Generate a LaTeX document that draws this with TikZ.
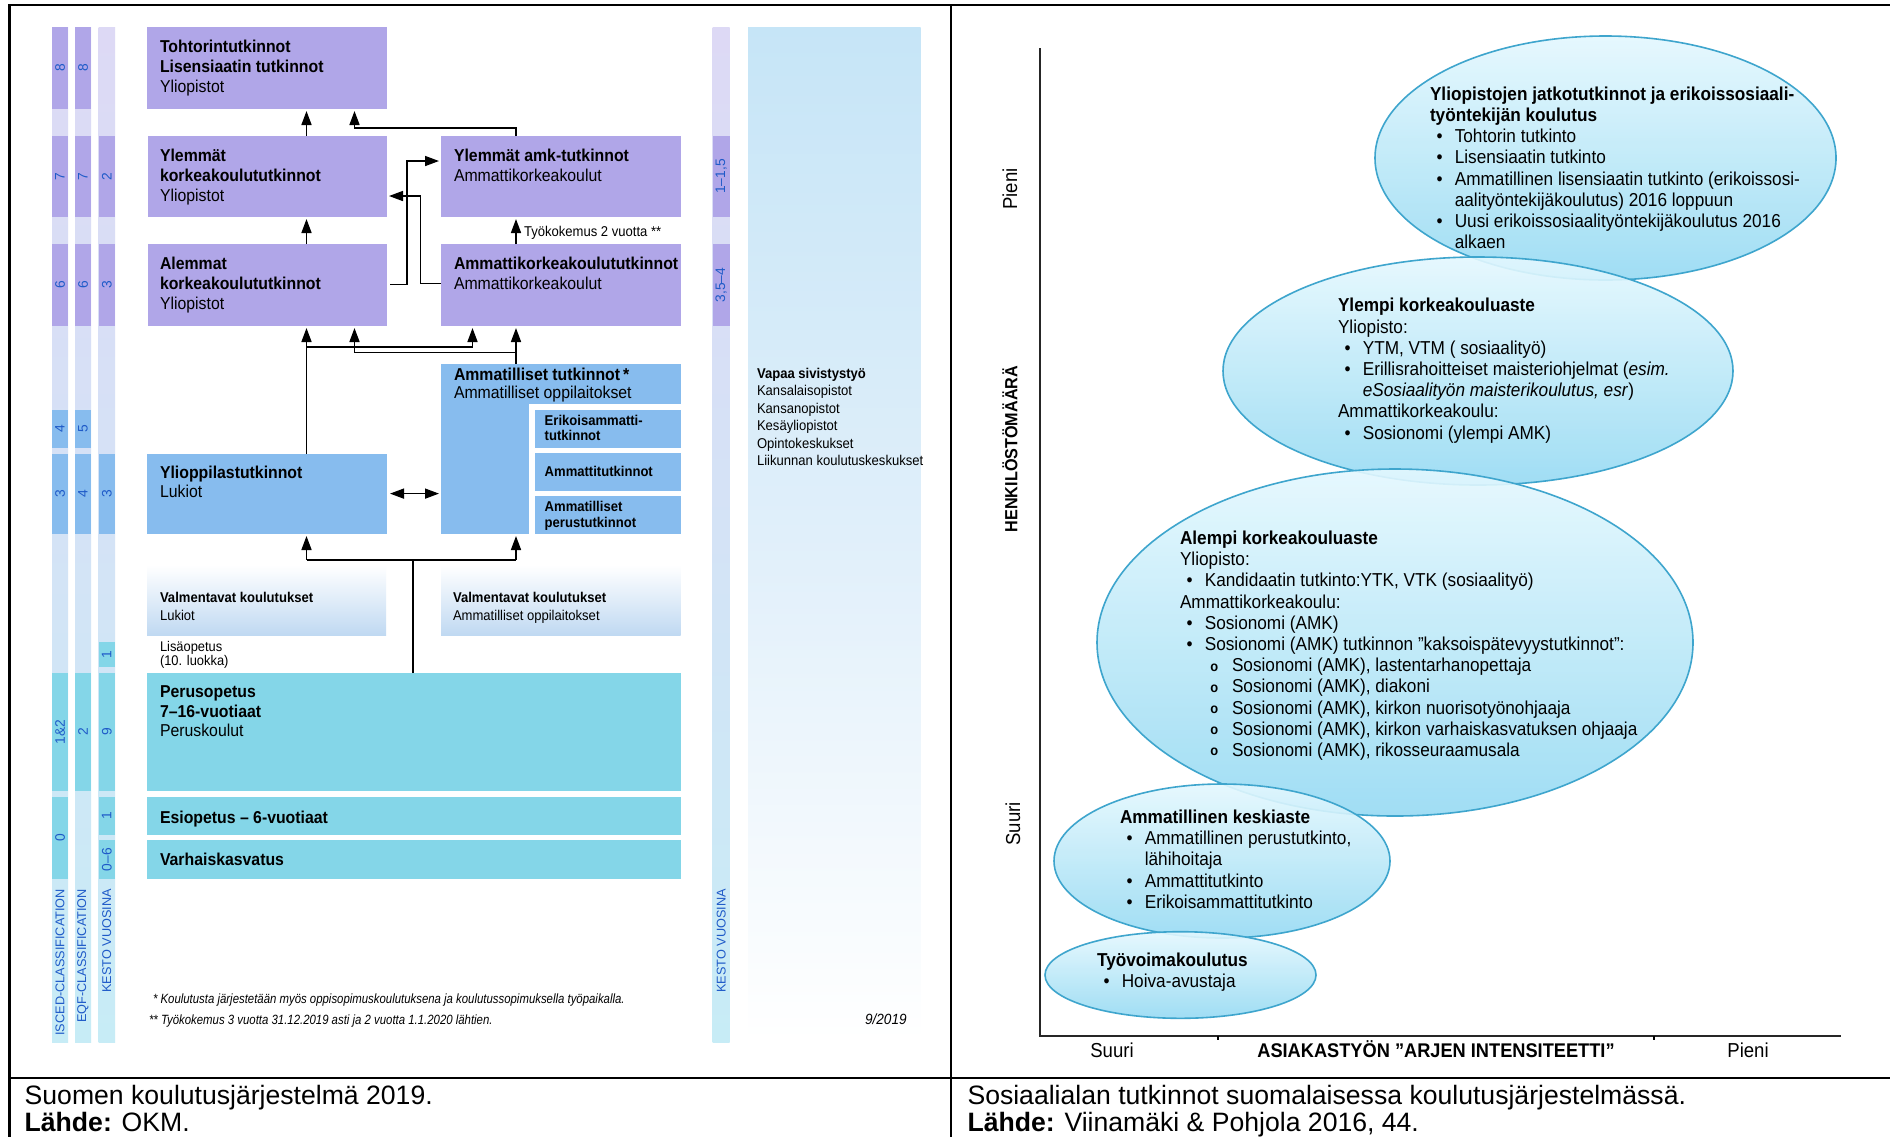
\documentclass[tikz,border=0pt]{standalone}
\usepackage{fontspec}
\setmainfont{Liberation Sans}
\newfontfamily\nfont[FakeStretch=0.92]{Liberation Sans}
\newfontfamily\nfontc[FakeStretch=0.85]{Liberation Sans}
\usetikzlibrary{fit,arrows.meta,shapes.geometric}
\definecolor{lavc}{RGB}{176,166,232}
\definecolor{lavl}{RGB}{221,217,245}
\definecolor{bluc}{RGB}{135,188,238}
\definecolor{blul}{RGB}{212,227,246}
\definecolor{cyac}{RGB}{132,214,232}
\definecolor{cyal}{RGB}{199,236,246}
\definecolor{numc}{RGB}{30,90,200}
\definecolor{valmc}{RGB}{192,217,242}
\definecolor{vapc}{RGB}{198,229,247}
\definecolor{vapm}{RGB}{224,239,250}
\definecolor{ellt}{RGB}{228,248,254}
\definecolor{ellb}{RGB}{150,218,243}
\definecolor{elld}{RGB}{62,165,205}
\newcommand\seg[7]{\node[fill=#5,fit={(#1,#3)(#2,#4)}] (#6) {};\node[numf,rotate=90] (#6n) at (#6.center) {#7};}
\newcommand\vtab[1]{\begin{tabular}[t]{@{}l@{}}#1\end{tabular}}
\newcommand\ebul[1]{\hspace*{3.3pt}\makebox[9.1pt][l]{\textbullet}#1}
\newcommand\econt[1]{\hspace*{12.4pt}#1}
\newcommand\esub[1]{\hspace*{15.2pt}\makebox[10.8pt][l]{\raisebox{0.3pt}{\fontsize{7}{7}\selectfont\bfseries o}}#1}
\begin{document}
\begin{tikzpicture}[x=0.5pt,y=-0.5pt,
  every node/.style={inner sep=0pt,outer sep=0pt},
  numf/.style={font=\fontsize{6.9}{7}\selectfont,text=numc},
  collab/.style={font=\fontsize{6.35}{7}\selectfont,text=numc,rotate=90,anchor=east},
  boxt/.style={anchor=base west,font=\nfont\fontsize{8.6}{10}\selectfont},
  smallt/.style={anchor=base west,font=\nfont\fontsize{7.1}{8.9}\selectfont},
  foot/.style={anchor=base west,font=\nfontc\itshape\fontsize{6.7}{8}\selectfont},
  ellt/.style={anchor=base west,font=\nfont\fontsize{9.35}{10.6}\selectfont},
  axf/.style={font=\nfont\fontsize{10.1}{11}\selectfont},
  capf/.style={anchor=base west,font=\fontsize{13.3}{14}\selectfont},
  strip/.style={top color=lavl,bottom color=cyal,middle color=blul},
  arr/.style={-{Triangle[length=7pt,width=5pt]},line width=0.8pt,shorten >=1pt},
  darr/.style={{Triangle[length=7pt,width=5pt]}-{Triangle[length=7pt,width=5pt]},line width=0.8pt,shorten >=1pt,shorten <=1.5pt},
  lin/.style={line width=0.8pt},
  tbl/.style={line width=1.1pt},
  ell/.style={ellipse,draw=elld,line width=0.8pt,top color=ellt,bottom color=ellb,fill opacity=0.9}
]
\useasboundingbox (0,0) rectangle (1890,1137);
\fill[white] (0,0) rectangle (1890,1137);

% ---------- table frame ----------
\coordinate (tl) at (9.5,5); \coordinate (tr) at (1890,5); \coordinate (bl) at (9.5,1137);
\coordinate (dt) at (950.7,5); \coordinate (db) at (950.7,1137);
\coordinate (hl) at (9.5,1077.7); \coordinate (hr) at (1890,1077.7);
\draw[tbl] (tr) -- (tl) -- (bl);
\draw[tbl] (dt) -- (db);
\draw[tbl] (hl) -- (hr);

% ---------- left: strips ----------
\node[strip,fit={(52,27)(68,1042)}] (s1) {};
\node[strip,fit={(75,27)(91,1042)}] (s2) {};
\node[strip,fit={(98.5,27)(115,1042)}] (s3) {};
\node[strip,fit={(712.6,27)(729.7,1042)}] (s4) {};
\node[top color=vapc,bottom color=white,middle color=vapm,fit={(748,27)(920.5,1042)}] (vap) {};

\seg{52}{68}{27}{109}{lavc}{a8}{8}
\seg{52}{68}{136}{217}{lavc}{a7}{7}
\seg{52}{68}{244}{326}{lavc}{a6}{6}
\seg{52}{68}{410}{448}{bluc}{a4}{4}
\seg{52}{68}{454}{534}{bluc}{a3}{3}
\seg{52}{68}{673}{791}{cyac}{a12}{1\&2}
\seg{52}{68}{797}{879}{cyac}{a0}{0}
\seg{75}{91}{27}{109}{lavc}{b8}{8}
\seg{75}{91}{136}{217}{lavc}{b7}{7}
\seg{75}{91}{244}{326}{lavc}{b6}{6}
\seg{75}{91}{410}{448}{bluc}{b5}{5}
\seg{75}{91}{454}{534}{bluc}{b4}{4}
\seg{75}{91}{673}{791}{cyac}{b2}{2}
\seg{98.5}{115}{136}{217}{lavc}{c2}{2}
\seg{98.5}{115}{244}{326}{lavc}{c3a}{3}
\seg{98.5}{115}{454}{534}{bluc}{c3b}{3}
\seg{98.5}{115}{642}{667}{cyac}{c1a}{1}
\seg{98.5}{115}{673}{791}{cyac}{c9}{9}
\seg{98.5}{115}{797}{835}{cyac}{c1b}{1}
\seg{98.5}{115}{840}{879}{cyac}{c06}{0--6}
\seg{712.6}{729.7}{136}{217}{lavc}{r1}{1--1,5}
\seg{712.6}{729.7}{244}{326}{lavc}{r2}{3,5--4}

\node[collab] (l1) at (60,889) {ISCED-CLASSIFICATION};
\node[collab] (l2) at (83,889) {EQF-CLASSIFICATION};
\node[collab] (l3) at (106.75,889) {KESTO VUOSINA};
\node[collab] (l4) at (721.2,889) {KESTO VUOSINA};

% ---------- left: boxes ----------
\node[fill=lavc,fit={(147,27)(387,109)}] (toht) {};
\node[fill=lavc,fit={(148,136)(387,217)}] (ylk) {};
\node[fill=lavc,fit={(148,244)(387,326)}] (alk) {};
\node[fill=lavc,fit={(441,136)(680.6,217)}] (yamk) {};
\node[fill=lavc,fit={(441,244)(680.6,326)}] (amk) {};
\node[fill=bluc,fit={(441,364)(680.6,534)}] (amm) {};
\node[fill=white,fit={(529,403.5)(680.6,534)}] (ammgap) {};
\node[fill=bluc,fit={(534.5,409.7)(680.6,447.8)}] (sub1) {};
\node[fill=bluc,fit={(534.5,452.6)(680.6,490.7)}] (sub2) {};
\node[fill=bluc,fit={(534.5,496)(680.6,534)}] (sub3) {};
\node[fill=bluc,fit={(147,454)(387,534)}] (ylio) {};
\node[top color=white,bottom color=valmc,fit={(147,565)(386,635)}] (valm1) {};
\node[top color=white,bottom color=valmc,fit={(441,565)(680.6,635)}] (valm2) {};
\node[fill=cyac,fit={(147,673)(680.6,791)}] (perus) {};
\node[fill=cyac,fit={(147,797)(680.6,835)}] (esi) {};
\node[fill=cyac,fit={(147,840)(680.6,879)}] (varh) {};

\node[boxt] (tohtt) at (160,52.7) {\vtab{\textbf{Tohtorintutkinnot}\\\textbf{Lisensiaatin tutkinnot}\\Yliopistot}};
\node[boxt] (ylkt) at (160,161.8) {\vtab{\textbf{Ylemmät}\\\textbf{korkeakoulututkinnot}\\Yliopistot}};
\node[boxt] (alkt) at (160,269.8) {\vtab{\textbf{Alemmat}\\\textbf{korkeakoulututkinnot}\\Yliopistot}};
\node[boxt] (yamkt) at (454,161.3) {\vtab{\textbf{Ylemmät amk-tutkinnot}\\Ammattikorkeakoulut}};
\node[boxt] (amkt) at (454,269.8) {\vtab{\textbf{Ammattikorkeakoulututkinnot}\\Ammattikorkeakoulut}};
\node[boxt,font=\nfont\fontsize{8.6}{9.2}\selectfont] (ammt) at (454,380) {\vtab{\textbf{Ammatilliset tutkinnot\,*}\\Ammatilliset oppilaitokset}};
\node[smallt,font=\nfont\bfseries\fontsize{7.1}{7.4}\selectfont] (sub1t) at (544.7,425.3) {\vtab{Erikoisammatti-\\tutkinnot}};
\node[smallt,font=\nfont\bfseries\fontsize{7.1}{7.4}\selectfont] (sub2t) at (544.7,476) {Ammattitutkinnot};
\node[smallt,font=\nfont\bfseries\fontsize{7.1}{7.8}\selectfont] (sub3t) at (544.7,511.8) {\vtab{Ammatilliset\\perustutkinnot}};
\node[boxt,font=\nfont\fontsize{8.6}{9.5}\selectfont] (yliot) at (160,478.4) {\vtab{\textbf{Ylioppilastutkinnot}\\Lukiot}};
\node[smallt,font=\nfont\fontsize{7.1}{9.2}\selectfont] (valm1t) at (160,602.3) {\vtab{\textbf{Valmentavat koulutukset}\\Lukiot}};
\node[smallt,font=\nfont\fontsize{7.1}{9.2}\selectfont] (valm2t) at (453,602.3) {\vtab{\textbf{Valmentavat koulutukset}\\Ammatilliset oppilaitokset}};
\node[smallt,font=\nfont\fontsize{7}{6.9}\selectfont] (lisa) at (160,651.3) {\vtab{Lisäopetus\\(10. luokka)}};
\node[boxt,font=\nfont\fontsize{8.6}{9.7}\selectfont] (perust) at (160,697.9) {\vtab{\textbf{Perusopetus}\\\textbf{7–16-vuotiaat}\\Peruskoulut}};
\node[boxt] (esit) at (160,823.3) {\textbf{Esiopetus – 6-vuotiaat}};
\node[boxt] (varht) at (160,865.8) {\textbf{Varhaiskasvatus}};
\node[smallt,font=\nfont\fontsize{7.1}{8.75}\selectfont] (vapt) at (757,378) {\vtab{\textbf{Vapaa sivistystyö}\\Kansalaisopistot\\Kansanopistot\\Kesäyliopistot\\Opintokeskukset\\Liikunnan koulutuskeskukset}};
\node[smallt] (tyo) at (524,236.3) {Työkokemus 2 vuotta **};
\node[foot] (f1) at (153,1003) {* Koulutusta järjestetään myös oppisopimuskoulutuksena ja koulutussopimuksella työpaikalla.};
\node[foot] (f2) at (149,1024) {** Työkokemus 3 vuotta 31.12.2019 asti ja 2 vuotta 1.1.2020 lähtien.};
\node[anchor=base west,font=\nfont\itshape\fontsize{7.4}{8}\selectfont] (date) at (865,1024) {9/2019};

% ---------- left: connectors ----------
\coordinate (xa) at (306.5,0); \coordinate (xb) at (354.5,0);
\coordinate (xc) at (472.5,0); \coordinate (xd) at (516,0);
\coordinate (xm) at (413,0); \coordinate (xp) at (407,0); \coordinate (xq) at (420.6,0);
\coordinate (ya) at (0,128); \coordinate (yb) at (0,347); \coordinate (yc) at (0,352.6);
\coordinate (yd) at (0,560); \coordinate (ye) at (0,284.6); \coordinate (yf) at (0,161);
\coordinate (yg) at (0,283.5); \coordinate (yh) at (0,196); \coordinate (yi) at (0,493.6);

\draw[arr] (ylk.north -| xa) -- (toht.south -| xa);
\draw[arr] (yamk.north -| xd) -- (xd |- ya) -- (xb |- ya) -- (toht.south -| xb);
\draw[arr] (alk.north -| xa) -- (ylk.south -| xa);
\draw[arr] (amk.north -| xd) -- (yamk.south -| xd);
\draw[arr] ([xshift=1.5pt]alk.east |- ye) -- (xp |- ye) -- (xp |- yf) -- (yamk.west |- yf);
\draw[arr] (amk.west |- yg) -- (xq |- yg) -- (xq |- yh) -- (ylk.east |- yh);
\draw[arr] (ylio.north -| xa) -- (alk.south -| xa);
\draw[arr] (xa |- yb) -- (xc |- yb) -- (amk.south -| xc);
\draw[arr] (amm.north -| xd) -- (amk.south -| xd);
\draw[arr] (xd |- yc) -- (xb |- yc) -- (alk.south -| xb);
\draw[darr] (ylio.east |- yi) -- (amm.west |- yi);
\draw[lin] (perus.north -| xm) -- (xm |- yd);
\draw[lin] (xa |- yd) -- (xd |- yd);
\draw[arr] (xa |- yd) -- (ylio.south -| xa);
\draw[arr] (xd |- yd) -- (amm.south -| xd);

% ---------- right panel ----------
\coordinate (org) at (1040,1036); \coordinate (ytop) at (1040,48); \coordinate (xend) at (1840.5,1036);
\coordinate (tk1) at (1218,1036); \coordinate (tk2) at (1654,1036);
\draw[line width=0.8pt,black!85] (ytop) -- (org) -- (xend);
\draw[line width=0.6pt] (tk1) -- ++(0,4);
\draw[line width=0.6pt] (tk2) -- ++(0,4);

\node[ell,minimum width=230.5pt,minimum height=122pt] (e1) at (1605.5,158) {};
\node[ell,minimum width=255pt,minimum height=114pt] (e2) at (1478,371) {};
\node[ell,minimum width=298pt,minimum height=173.5pt] (e3) at (1395,642.5) {};
\node[ell,minimum width=168pt,minimum height=77pt] (e4) at (1222,861) {};
\node[ell,minimum width=135.5pt,minimum height=43.3pt] (e5) at (1180.5,975) {};

\node[ellt] (e1t) at (1430,100.3) {\vtab{\textbf{Yliopistojen jatkotutkinnot ja erikoissosiaali-}\\
\textbf{työntekijän koulutus}\\
\ebul{Tohtorin tutkinto}\\
\ebul{Lisensiaatin tutkinto}\\
\ebul{Ammatillinen lisensiaatin tutkinto (erikoissosi-}\\
\econt{aalityöntekijäkoulutus) 2016 loppuun}\\
\ebul{Uusi erikoissosiaalityöntekijäkoulutus 2016}\\
\econt{alkaen}}};
\node[ellt] (e2t) at (1338,311.8) {\vtab{\textbf{Ylempi korkeakouluaste}\\
Yliopisto:\\
\ebul{YTM, VTM ( sosiaalityö)}\\
\ebul{Erillisrahoitteiset maisteriohjelmat (\textit{esim.}}\\
\econt{\textit{eSosiaalityön maisterikoulutus, esr})}\\
Ammattikorkeakoulu:\\
\ebul{Sosionomi (ylempi AMK)}}};
\node[ellt] (e3t) at (1180,544.5) {\vtab{\textbf{Alempi korkeakouluaste}\\
Yliopisto:\\
\ebul{Kandidaatin tutkinto:YTK, VTK (sosiaalityö)}\\
Ammattikorkeakoulu:\\
\ebul{Sosionomi (AMK)}\\
\ebul{Sosionomi (AMK) tutkinnon ”kaksoispätevyystutkinnot”:}\\
\esub{Sosionomi (AMK), lastentarhanopettaja}\\
\esub{Sosionomi (AMK), diakoni}\\
\esub{Sosionomi (AMK), kirkon nuorisotyönohjaaja}\\
\esub{Sosionomi (AMK), kirkon varhaiskasvatuksen ohjaaja}\\
\esub{Sosionomi (AMK), rikosseuraamusala}}};
\node[ellt] (e4t) at (1120,823.5) {\vtab{\textbf{Ammatillinen keskiaste}\\
\ebul{Ammatillinen perustutkinto,}\\
\econt{lähihoitaja}\\
\ebul{Ammattitutkinto}\\
\ebul{Erikoisammattitutkinto}}};
\node[ellt] (e5t) at (1097,966.1) {\vtab{\textbf{Työvoimakoulutus}\\
\ebul{Hoiva-avustaja}}};

\node[axf,anchor=base] (xsuuri) at (1112,1057) {Suuri};
\node[axf,anchor=base,font=\nfont\bfseries\fontsize{9.9}{11}\selectfont] (xlab) at (1436,1057) {ASIAKASTYÖN ”ARJEN INTENSITEETTI”};
\node[axf,anchor=base] (xpieni) at (1748,1057) {Pieni};
\node[axf,rotate=90] (ypieni) at (1010,189) {Pieni};
\node[axf,rotate=90,font=\nfont\bfseries\fontsize{8.8}{10}\selectfont] (ylab) at (1010,449) {HENKILÖSTÖMÄÄRÄ};
\node[axf,rotate=90] (ysuuri) at (1013,824) {Suuri};

% ---------- captions ----------
\node[capf] (cap1) at (24.7,1104.3) {Suomen koulutusjärjestelmä 2019.};
\node[capf] (cap1b) at (24.7,1131.5) {\textbf{Lähde:} OKM.};
\node[capf] (cap2) at (967.5,1104.3) {Sosiaalialan tutkinnot suomalaisessa koulutusjärjestelmässä.};
\node[capf] (cap2b) at (967.5,1131.5) {\textbf{Lähde:} Viinamäki \& Pohjola 2016, 44.};
\end{tikzpicture}
\end{document}
